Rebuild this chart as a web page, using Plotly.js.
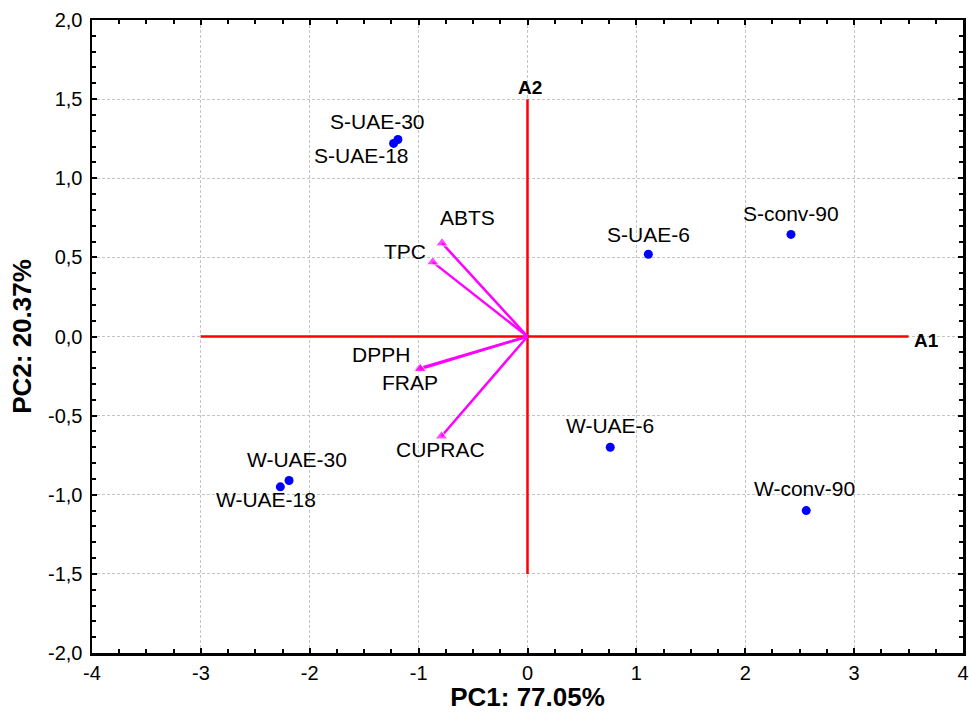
<!DOCTYPE html>
<html><head><meta charset="utf-8">
<script src="https://cdn.plot.ly/plotly-3.0.1.min.js"></script>
<style>html,body{margin:0;padding:0;background:#fff}#chart{width:969px;height:712px}</style>
</head><body><div id="chart"></div>
<script>
// Sample scores
const sampleNames = ["S-UAE-30","S-UAE-18","S-UAE-6","S-conv-90","W-UAE-6","W-conv-90","W-UAE-30","W-UAE-18"];
const sampleX = [-1.19,-1.23,1.11,2.42,0.76,2.56,-2.19,-2.27];
const sampleY = [1.245,1.22,0.52,0.645,-0.70,-1.10,-0.91,-0.95];
// label pixel offsets (layout)
const sampleLabelDX = [-20,-32,0,0,0,-2,8,-14];
const sampleLabelDY = [18,-12,20,21,22,22,21,-13];

// Variable loadings
const varNames = ["ABTS","TPC","DPPH","FRAP","CUPRAC"];
const varX = [-0.785,-0.87,-0.99,-0.985,-0.79];
const varY = [0.59,0.47,-0.20,-0.205,-0.63];
const varLabelDX = [25,-28,-39,-10,-1];
const varLabelDY = [26,11,14,-14,-13];

// Tick labels
const xTickVals = [-4,-3,-2,-1,0,1,2,3,4];
const xTickText = ["-4","-3","-2","-1","0","1","2","3","4"];
const yTickVals = [-2,-1.5,-1,-0.5,0,0.5,1,1.5,2];
const yTickText = ["-2,0","-1,5","-1,0","-0,5","0,0","0,5","1,0","1,5","2,0"];

// Axes lines
const axisLineA1X = [-3, 3.5], axisLineA1Y = [0, 0];
const axisLineA2X = [0, 0], axisLineA2Y = [-1.5, 1.5];

const traces = [];
traces.push({x: axisLineA1X, y: axisLineA1Y, mode:'lines', line:{color:'#ff0000', width:2.5}, hoverinfo:'skip'});
traces.push({x: axisLineA2X, y: axisLineA2Y, mode:'lines', line:{color:'#ff0000', width:2.5}, hoverinfo:'skip'});
for (let i=0;i<varNames.length;i++){
  traces.push({x:[0,varX[i]], y:[0,varY[i]], mode:'lines+markers',
    line:{color:'#ff00ff', width:2.5},
    marker:{symbol:'triangle-up', size:[0,11], color:'#ff00ff'}, hoverinfo:'skip'});
}
traces.push({x: sampleX, y: sampleY, mode:'markers', marker:{color:'#0000ff', size:9}, text: sampleNames});

const annFont = {family:'Liberation Sans, Arial, sans-serif', size:21, color:'#000'};
const annotations = [];
for (let i=0;i<sampleNames.length;i++){
  annotations.push({x:sampleX[i], y:sampleY[i], xref:'x', yref:'y', text:sampleNames[i], showarrow:false,
    xshift:sampleLabelDX[i], yshift:sampleLabelDY[i], font:annFont});
}
for (let i=0;i<varNames.length;i++){
  annotations.push({x:varX[i], y:varY[i], xref:'x', yref:'y', text:varNames[i], showarrow:false,
    xshift:varLabelDX[i], yshift:varLabelDY[i], font:annFont});
}
const axFont = {family:'Liberation Sans, Arial, sans-serif', size:19, color:'#000'};
annotations.push({x:3.5, y:0, xref:'x', yref:'y', text:'<b>A1</b>', showarrow:false, xanchor:'left', xshift:3, yshift:-4, font:axFont});
annotations.push({x:0, y:1.5, xref:'x', yref:'y', text:'<b>A2</b>', showarrow:false, yanchor:'bottom', xshift:2, yshift:-1, font:axFont});

const gridCol = '#c4c4c4';
const layout = {
  width:969, height:712,
  margin:{l:92, r:6, t:20, b:59},
  showlegend:false,
  paper_bgcolor:'#fff', plot_bgcolor:'#fff',
  font:{family:'Liberation Sans, Arial, sans-serif', size:20, color:'#000'},
  xaxis:{range:[-4,4], tickmode:'array', tickvals:xTickVals, ticktext:xTickText,
    ticks:'inside', ticklen:5, tickwidth:2, tickcolor:'#000',
    showline:true, linecolor:'#000', linewidth:2.5, mirror:'ticks',
    showgrid:true, gridcolor:gridCol, griddash:'3px,2px', gridwidth:1, zeroline:false,
    minor:{dtick:0.25, tick0:0, ticks:'inside', ticklen:4, tickwidth:2, tickcolor:'#000', showgrid:false},
    tickfont:{size:20}, title:{text:'<b>PC1: 77.05%</b>', font:{size:26}, standoff:9}},
  yaxis:{range:[-2,2], tickmode:'array', tickvals:yTickVals, ticktext:yTickText,
    ticks:'inside', ticklen:5, tickwidth:2, tickcolor:'#000', ticklabelstandoff:3,
    showline:true, linecolor:'#000', linewidth:2.5, mirror:'ticks',
    showgrid:true, gridcolor:gridCol, griddash:'3px,2px', gridwidth:1, zeroline:false,
    minor:{dtick:0.1, tick0:0, ticks:'inside', ticklen:4, tickwidth:2, tickcolor:'#000', showgrid:false},
    tickfont:{size:20}, title:{text:'<b>PC2: 20.37%</b>', font:{size:26}, standoff:9}},
  annotations: annotations
};
Plotly.newPlot('chart', traces, layout, {displayModeBar:false, staticPlot:true});
</script></body></html>
